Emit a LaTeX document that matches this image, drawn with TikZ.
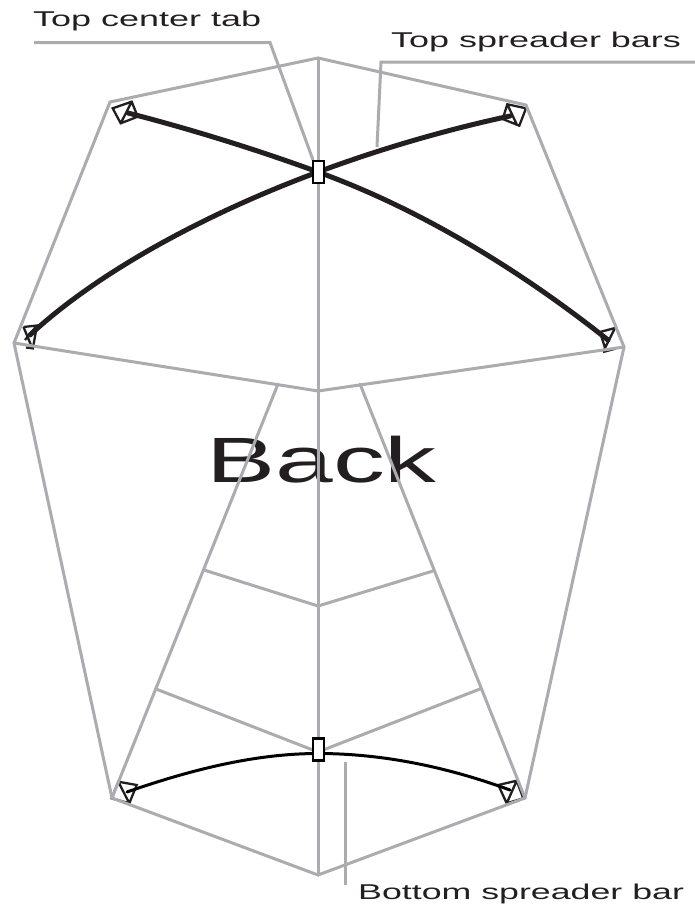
\documentclass[tikz,border=0pt]{standalone}
\usepackage{fontspec}
\setmainfont{Liberation Sans}
\definecolor{kgray}{HTML}{ABABB0}
\definecolor{kink}{HTML}{231F20}
\newcommand{\wide}[1]{\scalebox{1.68}[1]{#1}}
\tikzset{
  frameline/.style={draw=kgray,line width=3pt,line join=miter,line cap=round},
  leaderline/.style={draw=kgray,line width=3pt},
  topbar/.style={draw=kink,line width=5pt},
  botbar/.style={draw=black,line width=3pt},
  bridle/.style={draw=kink,line width=2.3pt,line join=miter},
  tabbox/.style={draw=black,fill=white,line width=2.4pt,minimum width=11pt,minimum height=22pt,inner sep=0pt},
  lab/.style={anchor=base west,inner sep=0pt,text=kink,font=\fontsize{21.4}{24}\selectfont},
}
\begin{document}
\begin{tikzpicture}[x=1pt,y=-1pt]
\useasboundingbox (0,0) rectangle (695,913);
\coordinate (T) at (318,58);
\coordinate (TR) at (526,105);
\coordinate (R) at (624,347);
\coordinate (BR) at (525,798);
\coordinate (B) at (318,875);
\coordinate (BL) at (112,798);
\coordinate (L) at (14,343);
\coordinate (TL) at (110,102);
\coordinate (C) at (318,391);
\coordinate (GL) at (278,384);
\coordinate (GR) at (360,384);
\coordinate (UL) at (204,570);
\coordinate (UC) at (318,606);
\coordinate (UR) at (433,571);
\coordinate (LL) at (156,689);
\coordinate (LC) at (318,752);
\coordinate (LR) at (480,689);
% text under the frame
\node[anchor=base west,inner sep=0pt,text=kink,font=\fontsize{64}{70}\selectfont] (back) at (206,482) {\scalebox{1.62}[1]{Back}};
% bridle squares
\draw[bridle] (112.7,108.3) -- (131.7,101.7) -- (137.7,116.7) -- (120.7,123.3) -- cycle (131.7,101.7) -- (120.7,123.3);
\draw[bridle] (507.3,104.3) -- (526,108.3) -- (519.3,125.7) -- (502.7,119) -- cycle (507.3,104.3) -- (516.7,124.3);
\draw[bridle] (23.5,327) -- (37,325.5) -- (33,347.5) (23.5,327) -- (32,347.5) (37,325.5) -- (25,340) (26,347.5) -- (34,348.5);
\draw[bridle] (600,332) -- (615,328) -- (603.5,351) (600,332) -- (606,351) (603,352) -- (616,348.5);
\draw[bridle] (118.3,781.7) -- (136.7,785) -- (129.3,803.3) -- (111.7,798.3) -- cycle (118.3,781.7) -- (129.3,803.3);
\draw[bridle] (498.3,785) -- (516.7,780.7) -- (523.3,798.3) -- (506.7,803.3) -- cycle (516.7,780.7) -- (506.7,803.3);
% frame
\draw[frameline] (T) -- (TR) -- (R) -- (BR) -- (B) -- (BL) -- (L) -- (TL) -- cycle;
\draw[frameline] (L) -- (C) -- (R);
\draw[frameline] (T) -- (B);
\draw[frameline] (GL) -- (BL);
\draw[frameline] (GR) -- (BR);
\draw[frameline] (UL) -- (UC) -- (UR);
\draw[frameline] (LL) -- (LC) -- (LR);
% leaders
\coordinate (a1) at (34,42.5);
\coordinate (a2) at (270,42.5);
\coordinate (a3) at (313,160);
\coordinate (b1) at (695,62);
\coordinate (b2) at (381,62);
\coordinate (b3) at (377,147);
\coordinate (c1) at (345,885);
\coordinate (c2) at (345,762);
\draw[leaderline] (a1) -- (a2) -- (a3);
\draw[leaderline] (b1) -- (b2) -- (b3);
\draw[leaderline] (c1) -- (c2);
% spreaders
\coordinate (s1) at (128,113);
\coordinate (s2) at (608,340);
\coordinate (s3) at (30,335);
\coordinate (s4) at (510,116);
\coordinate (s5) at (127,792);
\coordinate (s6) at (510,790);
\coordinate (mt) at (318,172);
\coordinate (mb) at (318,753.5);
\draw[topbar,line cap=round] (s1) .. controls (190,129) and (255,149) .. (mt) .. controls (420,209) and (520,270) .. (s2);
\draw[topbar,line cap=round] (s3) .. controls (100,270) and (210,212) .. (mt) .. controls (380,149) and (445,130) .. (s4);
\draw[botbar,line cap=round] (s5) .. controls (190,770) and (255,753.5) .. (mb) .. controls (385,753.5) and (450,768) .. (s6);
% tabs
\node[tabbox] (toptab) at (318.4,171.7) {};
\node[tabbox] (bottab) at (318.4,749.5) {};
% labels
\node[lab] (ltab) at (33,26) {\wide{Top center tab}};
\node[lab] (ltop) at (391,47.7) {\wide{Top spreader bars}};
\node[lab] (lbot) at (358,899) {\scalebox{1.67}[1]{Bottom spreader bar}};
\end{tikzpicture}
\end{document}
